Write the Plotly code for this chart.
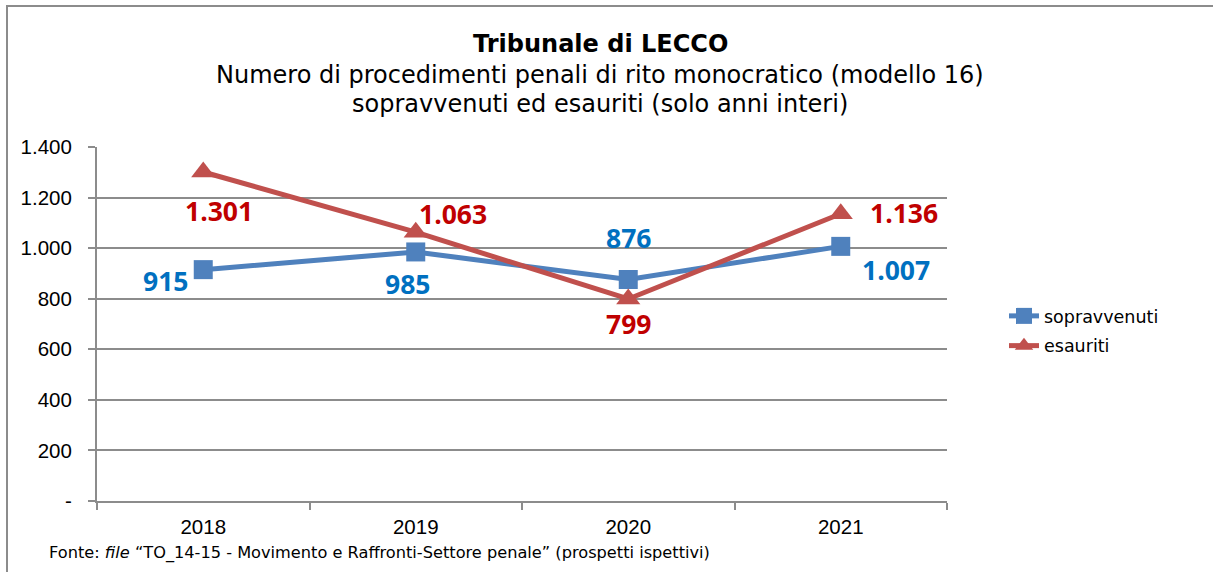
import plotly.graph_objects as go

years = ["2018", "2019", "2020", "2021"]
sopravvenuti = [915, 985, 876, 1007]
esauriti = [1301, 1063, 799, 1136]
y_tickvals = [0, 200, 400, 600, 800, 1000, 1200, 1400]
y_ticktext = ["-", "200", "400", "600", "800", "1.000", "1.200", "1.400"]

title_line = "Tribunale di LECCO"
subtitle_1 = "Numero di procedimenti penali di rito monocratico (modello 16)"
subtitle_2 = "sopravvenuti ed esauriti (solo anni interi)"
footer = "Fonte: <i>file</i> \u201cTO_14-15 - Movimento e Raffronti-Settore penale\u201d (prospetti ispettivi)"

BLUE = "#4F81BD"
RED = "#C0504D"
BLUE_LBL = "#0070C0"
RED_LBL = "#C00000"
GRID = "#8C8C8C"

W, H = 1213, 572
L, R, T, B = 97, 266, 147, 71
PW, PH = W - L - R, H - T - B


def px_x(x):
    return (x - L) / PW


def px_y(y):
    return (H - B - y) / PH


def fmt(v):
    return f"{v:,}".replace(",", ".")


fig = go.Figure()
fig.add_trace(go.Scatter(
    x=years, y=sopravvenuti, name="sopravvenuti", mode="lines+markers",
    legendgroup="a",
    line=dict(color=BLUE, width=5),
    marker=dict(symbol="square", size=19, color=BLUE),
))
fig.add_trace(go.Scatter(
    x=years, y=esauriti, name="esauriti", mode="lines+markers",
    legendgroup="b",
    line=dict(color=RED, width=5),
    marker=dict(symbol="triangle-up", size=21, color=RED),
))

label_font = dict(family="Open Sans", size=26.5)
sop_shift = [(-38, -11), (-8, -32), (0, 42), (55, -24)]
esa_shift = [(16, -39), (37, 18), (0, -25), (63, 1)]
for i, (v, (dx, dy)) in enumerate(zip(sopravvenuti, sop_shift)):
    fig.add_annotation(x=i, y=v, xref="x", yref="y",
                       text=f"<b>{fmt(v)}</b>", showarrow=False,
                       xshift=dx, yshift=dy,
                       font=dict(color=BLUE_LBL, **label_font))
for i, (v, (dx, dy)) in enumerate(zip(esauriti, esa_shift)):
    fig.add_annotation(x=i, y=v, xref="x", yref="y",
                       text=f"<b>{fmt(v)}</b>", showarrow=False,
                       xshift=dx, yshift=dy,
                       font=dict(color=RED_LBL, **label_font))

title_font = "DejaVu Sans"
fig.add_annotation(x=px_x(600), y=px_y(44), xref="paper", yref="paper",
                   text=f"<b>{title_line}</b>", showarrow=False,
                   font=dict(family=title_font, size=24, color="#000"),
                   xanchor="center", yanchor="middle")
fig.add_annotation(x=px_x(600), y=px_y(75), xref="paper", yref="paper",
                   text=subtitle_1, showarrow=False,
                   font=dict(family=title_font, size=24, color="#000"),
                   xanchor="center", yanchor="middle")
fig.add_annotation(x=px_x(600), y=px_y(104), xref="paper", yref="paper",
                   text=subtitle_2, showarrow=False,
                   font=dict(family=title_font, size=24, color="#000"),
                   xanchor="center", yanchor="middle")
fig.add_annotation(x=px_x(47), y=px_y(553), xref="paper", yref="paper",
                   text=footer, showarrow=False,
                   font=dict(family=title_font, size=16.2, color="#000"),
                   xanchor="left", yanchor="middle")

# outer frame (left and top edges)
fig.add_shape(type="line", xref="paper", yref="paper",
              x0=px_x(7), x1=px_x(7), y0=px_y(6), y1=px_y(H + 5),
              line=dict(color="#8C8C8C", width=2))
fig.add_shape(type="line", xref="paper", yref="paper",
              x0=px_x(6), x1=px_x(W + 5), y0=px_y(6), y1=px_y(6),
              line=dict(color="#8C8C8C", width=2))

fig.update_layout(
    width=W, height=H,
    margin=dict(l=L, r=R, t=T, b=B),
    paper_bgcolor="white", plot_bgcolor="white",
    showlegend=True,
    legend=dict(x=px_x(1004), y=px_y(298), xanchor="left", yanchor="top",
                font=dict(family=title_font, size=17.5, color="#000"),
                bgcolor="rgba(0,0,0,0)", tracegroupgap=4),
    font=dict(family="Liberation Sans", color="#000"),
)
fig.update_xaxes(
    type="category", range=[-0.5, 3.5],
    showgrid=False, showline=True, linecolor=GRID, linewidth=2,
    ticks="outside", tickson="boundaries", ticklen=7, tickcolor=GRID, tickwidth=2,
    tickfont=dict(family="Liberation Sans", size=20.5, color="#000"),
    ticklabelstandoff=6,
)
fig.update_yaxes(
    range=[0, 1400], tickvals=y_tickvals, ticktext=y_ticktext,
    showgrid=True, gridcolor=GRID, gridwidth=1.6,
    showline=True, linecolor=GRID, linewidth=2,
    ticks="outside", ticklen=7, tickcolor=GRID, tickwidth=2,
    tickfont=dict(family="Liberation Sans", size=20.5, color="#000"),
    ticklabelstandoff=12, zeroline=False,
)

fig.write_html("out.html", config={"displayModeBar": False},
               post_script="document.body.style.margin='0';")
